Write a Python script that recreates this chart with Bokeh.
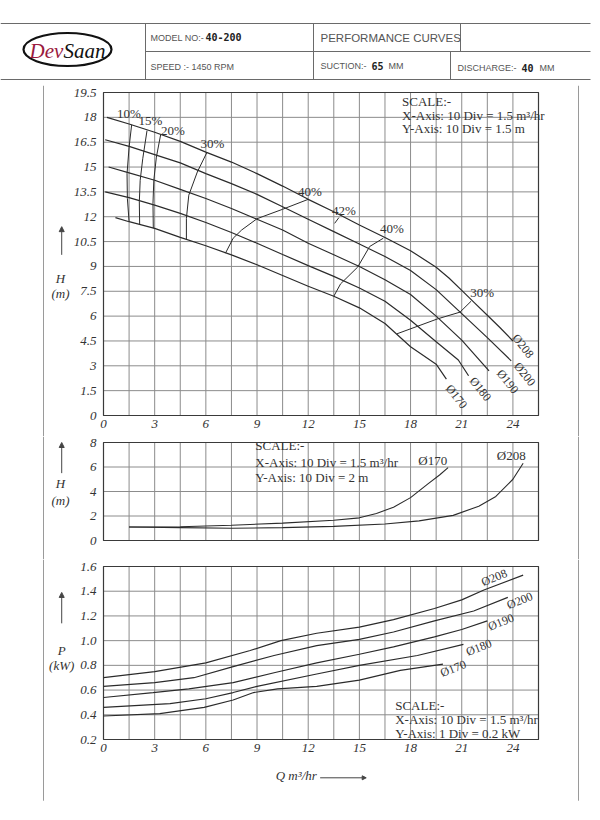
import numpy as np
from bokeh.plotting import figure
from bokeh.layouts import column
from bokeh.models import FixedTicker, Arrow, NormalHead, Range1d, CustomJSTickFormatter
from bokeh.embed import file_html
from bokeh.resources import INLINE
from bokeh.core.properties import value

# ---------------- header data ----------------
model_no = "40-200"
speed = "1450 RPM"
suction = "65"
discharge = "40"

# ---------------- ticks ----------------
q_ticks = [0, 3, 6, 9, 12, 15, 18, 21, 24]
h_ticks = [0, 1.5, 3, 4.5, 6, 7.5, 9, 10.5, 12, 13.5, 15, 16.5, 18, 19.5]
npsh_ticks = [0, 2, 4, 6, 8]
p_ticks = [0.2, 0.4, 0.6, 0.8, 1.0, 1.2, 1.4, 1.6]

# ---------------- H-Q curves (top) ----------------
q208 = [0.2, 1.5, 3, 4.5, 6, 7.5, 9, 10.5, 12, 13.5, 15, 16.5, 18, 19.5, 20.25, 21, 21.75, 22.5, 23.25, 24.0]
h208 = [18.0, 17.6, 17.1, 16.55, 15.9, 15.3, 14.6, 13.85, 13.05, 12.3, 11.5, 10.75, 9.95, 8.95, 8.3, 7.55, 6.8, 6.05, 5.3, 4.5]
q200 = [0.1, 1.5, 3, 4.5, 6, 7.5, 9, 10.5, 12, 13.5, 15, 16.5, 18, 19.5, 21, 22.5, 23.9]
h200 = [16.65, 16.25, 15.75, 15.25, 14.6, 14.0, 13.35, 12.6, 11.85, 11.1, 10.35, 9.6, 8.75, 7.6, 6.15, 4.7, 3.3]
q190 = [0.3, 1.5, 3, 4.5, 6, 7.5, 9, 10.5, 12, 13.5, 15, 16.5, 18, 19.5, 21, 22.6]
h190 = [15.0, 14.65, 14.2, 13.65, 13.1, 12.5, 11.85, 11.2, 10.4, 9.7, 9.0, 8.2, 7.3, 6.0, 4.55, 2.7]
q180 = [0.1, 1.5, 3, 4.5, 6, 7.5, 9, 10.5, 12, 13.5, 15, 16.5, 18, 19.5, 20.8, 21.4]
h180 = [13.5, 13.15, 12.7, 12.2, 11.65, 11.05, 10.4, 9.72, 9.05, 8.4, 7.7, 6.9, 5.75, 4.45, 3.35, 2.4]
q170 = [0.7, 1.5, 3, 4.5, 6, 7.5, 9, 10.5, 12, 13.5, 15, 16.5, 18, 19.5, 20.1]
h170 = [11.95, 11.7, 11.3, 10.75, 10.25, 9.7, 9.1, 8.45, 7.8, 7.2, 6.5, 5.55, 4.15, 3.1, 2.2]

# iso-efficiency lines
eff10_q = [1.65, 1.5, 1.38, 1.4, 1.5]
eff10_h = [17.55, 16.2, 14.6, 13.1, 11.7]
eff15_q = [2.55, 2.3, 2.15, 2.1, 2.12]
eff15_h = [17.2, 15.5, 14.2, 12.9, 11.5]
eff20_q = [3.35, 3.1, 2.95, 2.9, 2.92]
eff20_h = [16.95, 15.6, 14.2, 12.8, 11.3]
eff30a_q = [6.07, 5.5, 5.0, 4.86, 4.86]
eff30a_h = [15.9, 14.7, 13.3, 11.9, 10.65]
eff40a_q = [12.0, 10.5, 9.0, 8.1, 7.6, 7.15]
eff40a_h = [13.05, 12.45, 11.88, 11.2, 10.7, 9.8]
eff42_q = [13.8, 13.55]
eff42_h = [11.95, 11.6]
eff40b_q = [16.4, 15.6, 14.9, 13.9, 13.5]
eff40b_h = [10.7, 10.2, 8.96, 7.95, 7.2]
eff30b_q = [21.55, 20.9, 19.6, 17.2]
eff30b_h = [6.9, 6.24, 5.84, 4.93]

eff_labels = ["10%", "15%", "20%", "30%", "40%", "42%", "40%", "30%"]
eff_lab_q = [1.49, 2.75, 4.07, 6.39, 12.1, 14.1, 16.9, 22.2]
eff_lab_h = [18.24, 17.8, 17.2, 16.4, 13.5, 12.4, 11.3, 7.4]

dia_labels = ["Ø208", "Ø200", "Ø190", "Ø180", "Ø170"]
dia_lab_q = [24.6, 24.7, 23.7, 22.1, 20.7]
dia_lab_h = [4.2, 2.5, 2.05, 1.6, 1.15]

# ---------------- NPSH curves (middle) ----------------
npsh170_q = [1.5, 4.5, 7.5, 10.5, 13.5, 15, 16, 17, 18, 19, 19.7, 20.2]
npsh170_h = [1.1, 1.12, 1.25, 1.42, 1.65, 1.85, 2.2, 2.72, 3.5, 4.6, 5.35, 5.95]
npsh208_q = [1.5, 4.5, 7.5, 10.5, 13.5, 16.5, 18.5, 20.5, 22, 23, 24, 24.6]
npsh208_h = [1.1, 1.05, 1.0, 1.05, 1.15, 1.35, 1.6, 2.05, 2.8, 3.6, 5.0, 6.3]
npsh_labels = ["Ø170", "Ø208"]
npsh_lab_q = [19.3, 23.9]
npsh_lab_h = [6.5, 6.9]

# ---------------- Power curves (bottom) ----------------
p208_q = [0, 3, 6, 8.6, 10.4, 12.5, 15, 17, 19.4, 21, 22.3, 24.6]
p208_p = [0.70, 0.75, 0.82, 0.92, 1.0, 1.06, 1.11, 1.17, 1.26, 1.33, 1.41, 1.53]
p200_q = [0, 3, 5.3, 7.6, 10, 12.5, 15, 17, 19.4, 21.7, 23.7]
p200_p = [0.63, 0.66, 0.70, 0.79, 0.88, 0.96, 1.01, 1.07, 1.16, 1.24, 1.35]
p190_q = [0, 2.9, 5, 7.6, 10, 12.5, 15, 17, 19.4, 21, 22.5]
p190_p = [0.54, 0.58, 0.61, 0.66, 0.74, 0.82, 0.89, 0.95, 1.03, 1.09, 1.16]
p180_q = [0, 3.9, 6, 7.6, 9, 12.5, 15, 18.4, 21.1]
p180_p = [0.46, 0.49, 0.53, 0.58, 0.63, 0.73, 0.80, 0.88, 0.97]
p170_q = [0, 3.3, 5.9, 7.6, 8.8, 10.2, 12.5, 15, 17.4, 19.9]
p170_p = [0.39, 0.41, 0.46, 0.52, 0.58, 0.61, 0.63, 0.68, 0.76, 0.81]
pw_lab_q = [22.9, 24.4, 23.3, 22.0, 20.5]
pw_lab_p = [1.51, 1.325, 1.15, 0.945, 0.775]

scale_top = ["SCALE:-", "X-Axis: 10 Div = 1.5 m³/hr", "Y-Axis: 10 Div = 1.5 m"]
scale_mid = ["SCALE:-", "X-Axis: 10 Div = 1.5 m³/hr", "Y-Axis: 10 Div = 2 m"]
scale_bot = ["SCALE:-", "X-Axis: 10 Div = 1.5 m³/hr", "Y-Axis: 1 Div = 0.2 kW"]

SERIF = value("Liberation Serif")
INK = "#2b2b2b"
GRID = "#8c8c8c"
Q_MAX = 25.5
grid_q = list(np.arange(0, 25.6, 1.5))
fmt_plain = "return tick.toString();"
fmt_fixed1 = "return tick.toFixed(1);"

# page layout (pixels) : the plotting box of each chart
W = 600
BOX_L, BOX_R = 103, 538
PXQ = (BOX_R - BOX_L) / Q_MAX
X_RANGE = (-BOX_L / PXQ, (W - BOX_L) / PXQ)
FRAME_L_Q = (43 - BOX_L) / PXQ
FRAME_R_Q = (578 - BOX_L) / PXQ


def chart(fig_top, fig_h, box_top, box_bot, ymin, ymax, yticks, grid_y, show_x, yfmt, frame_ext=(0, 0)):
    ppu = (box_bot - box_top) / (ymax - ymin)
    r0 = ymin - (fig_top + fig_h - box_bot) / ppu
    r1 = ymax + (box_top - fig_top) / ppu
    p = figure(width=W, height=fig_h, x_range=Range1d(*X_RANGE), y_range=Range1d(r0, r1),
               output_backend="svg", toolbar_location=None, min_border=0)
    p.background_fill_color = "white"
    p.border_fill_color = "white"
    p.outline_line_color = None
    p.grid.visible = False
    # page frame lines (scan border)
    p.segment(x0=[FRAME_L_Q, FRAME_R_Q], x1=[FRAME_L_Q, FRAME_R_Q], y0=[r0 + frame_ext[0]] * 2,
              y1=[r1 - frame_ext[1]] * 2, line_color="#9a9a9a", line_width=1)
    # grid
    p.segment(x0=grid_q, x1=grid_q, y0=[ymin] * len(grid_q), y1=[ymax] * len(grid_q),
              line_color=GRID, line_width=1)
    p.segment(x0=[0] * len(grid_y), x1=[Q_MAX] * len(grid_y), y0=grid_y, y1=grid_y,
              line_color=GRID, line_width=1)
    p.quad(left=[0], right=[Q_MAX], bottom=[ymin], top=[ymax], fill_color=None,
           line_color="#3a3a3a", line_width=1.2)
    for ax in (p.xaxis[0], p.yaxis[0]):
        ax.axis_line_color = None
        ax.major_tick_line_color = None
        ax.minor_tick_line_color = None
        ax.major_tick_out = 0
        ax.major_tick_in = 0
        ax.major_label_text_font = "Liberation Serif"
        ax.major_label_text_font_style = "italic"
        ax.major_label_text_font_size = "13px"
        ax.major_label_text_color = "#333333"
    p.xaxis.formatter = CustomJSTickFormatter(code=fmt_plain)
    p.yaxis.formatter = CustomJSTickFormatter(code=yfmt)
    p.xaxis.ticker = FixedTicker(ticks=q_ticks)
    p.yaxis.ticker = FixedTicker(ticks=yticks)
    p.yaxis.fixed_location = 0
    p.xaxis.fixed_location = ymin
    p.xaxis.major_label_standoff = 4
    p.yaxis.major_label_standoff = 7
    p.xaxis.visible = show_x
    return p


def side_label(p, x, ys, texts, arrow):
    p.text(x=[x] * len(ys), y=ys, text=texts, text_font=SERIF, text_font_style="italic",
           text_font_size="13px", text_align="center", text_baseline="middle", text_color="#333333")
    p.add_layout(Arrow(x_start=arrow[0], y_start=arrow[1], x_end=arrow[0], y_end=arrow[2],
                       line_color="#444444", line_width=1,
                       end=NormalHead(size=5, fill_color="#444444", line_color="#444444")))


def scale_text(p, x, ys, texts):
    p.text(x=[x] * 3, y=ys, text=texts, text_font=SERIF, text_font_size="13px",
           text_color="#333333", text_align="left", text_baseline="middle")


# ---------------- header ----------------
hdr = figure(width=W, height=85, x_range=Range1d(0, W), y_range=Range1d(85, 0),
             output_backend="svg", toolbar_location=None, min_border=0)
hdr.axis.visible = False
hdr.grid.visible = False
hdr.outline_line_color = None
hdr.segment(x0=[0, 145, 0, 145, 313, 460, 450], y0=[23, 51, 79, 23, 23, 23, 51],
            x1=[590, 590, 590, 145, 313, 460, 450], y1=[23, 51, 79, 79, 79, 51, 79],
            line_color="#6a6a6a", line_width=1)
hdr.segment(x0=[120], x1=[590], y0=[85], y1=[85], line_color="#9a9a9a", line_width=1)
hdr.ellipse(x=[67], y=[49], width=[88], height=[33], fill_color=None, line_color="#111111", line_width=2.2)
hdr.text(x=[29], y=[50], text=["Dev"], text_font=SERIF, text_font_style="italic", text_font_size="21px",
         text_color="#9b1b3f", text_baseline="middle")
hdr.text(x=[63], y=[50], text=["Saan"], text_font=SERIF, text_font_style="italic", text_font_size="21px",
         text_color="#111111", text_baseline="middle")
lab_font = value("Liberation Sans")
hdr.text(x=[150, 150, 320, 320, 457], y=[37, 66, 37, 65, 67],
         text=["MODEL NO:-", "SPEED :- " + speed, "PERFORMANCE CURVES", "SUCTION:-", "DISCHARGE:-"],
         text_font=lab_font, text_font_size=["9px", "9px", "11.5px", "9px", "9px"],
         text_color="#555555", text_baseline="middle")
hdr.text(x=[205, 371, 521], y=[36, 65, 67], text=[model_no, suction, discharge],
         text_font=value("DejaVu Sans Mono"), text_font_style="bold", text_font_size="10px",
         text_color="#222222", text_baseline="middle")
hdr.text(x=[388, 539], y=[65, 67], text=["MM", "MM"], text_font=lab_font, text_font_size="9px",
         text_color="#555555", text_baseline="middle")

# ---------------- top chart ----------------
top = chart(85, 351, 92, 415, 0, 19.5, h_ticks, h_ticks, True, fmt_plain)
for qs, hs in [(q208, h208), (q200, h200), (q190, h190), (q180, h180), (q170, h170)]:
    top.line(qs, hs, line_color=INK, line_width=1.2)
for qs, hs in [(eff10_q, eff10_h), (eff15_q, eff15_h), (eff20_q, eff20_h), (eff30a_q, eff30a_h),
               (eff40a_q, eff40a_h), (eff42_q, eff42_h), (eff40b_q, eff40b_h), (eff30b_q, eff30b_h)]:
    top.line(qs, hs, line_color=INK, line_width=1)
top.text(x=eff_lab_q, y=eff_lab_h, text=eff_labels, text_font=SERIF, text_font_size="13px",
         text_color="#333333", text_align="center", text_baseline="middle")
top.text(x=dia_lab_q, y=dia_lab_h, text=dia_labels, text_font=SERIF, text_font_size="12px",
         text_color="#333333", text_align="center", text_baseline="middle", angle=-0.9)
scale_text(top, 17.5, [18.96, 18.12, 17.3], scale_top)
side_label(top, -2.52, [8.27, 7.37], ["H", "(m)"], (-2.45, 9.7, 11.4))

# ---------------- middle chart ----------------
mid = chart(436, 123, 442, 540, 0, 8, npsh_ticks, npsh_ticks, False, fmt_plain)
mid.line(npsh170_q, npsh170_h, line_color=INK, line_width=1.1)
mid.line(npsh208_q, npsh208_h, line_color=INK, line_width=1.1)
mid.text(x=npsh_lab_q, y=npsh_lab_h, text=npsh_labels, text_font=SERIF, text_font_size="13px",
         text_color="#333333", text_align="center", text_baseline="middle")
scale_text(mid, 8.9, [7.76, 6.39, 5.17], scale_mid)
side_label(mid, -2.52, [4.65, 3.27], ["H", "(m)"], (-2.45, 5.5, 8.0))

# ---------------- bottom chart ----------------
bot = chart(559, 261, 566, 739, 0.2, 1.6, p_ticks, p_ticks, True, fmt_fixed1, frame_ext=(0.16, 0))
for qs, ps in [(p208_q, p208_p), (p200_q, p200_p), (p190_q, p190_p), (p180_q, p180_p), (p170_q, p170_p)]:
    bot.line(qs, ps, line_color=INK, line_width=1.2)
bot.text(x=pw_lab_q, y=pw_lab_p, text=dia_labels, text_font=SERIF, text_font_size="12px",
         text_color="#333333", text_align="center", text_baseline="middle", angle=0.38)
scale_text(bot, 17.1, [0.475, 0.36, 0.25], scale_bot)
side_label(bot, -2.45, [0.92, 0.80], ["P", "(kW)"], (-2.45, 1.14, 1.39))
bot.text(x=[11.3], y=[-0.09], text=["Q m³/hr"], text_font=SERIF, text_font_style="italic",
         text_font_size="13px", text_align="center", text_baseline="middle", text_color="#333333")
bot.add_layout(Arrow(x_start=12.7, y_start=-0.11, x_end=15.4, y_end=-0.11, line_color="#444444", line_width=1,
                     end=NormalHead(size=4, fill_color="#444444", line_color="#444444")))

layout = column(hdr, top, mid, bot, spacing=0)
open("out.html", "w").write(file_html(layout, INLINE))
